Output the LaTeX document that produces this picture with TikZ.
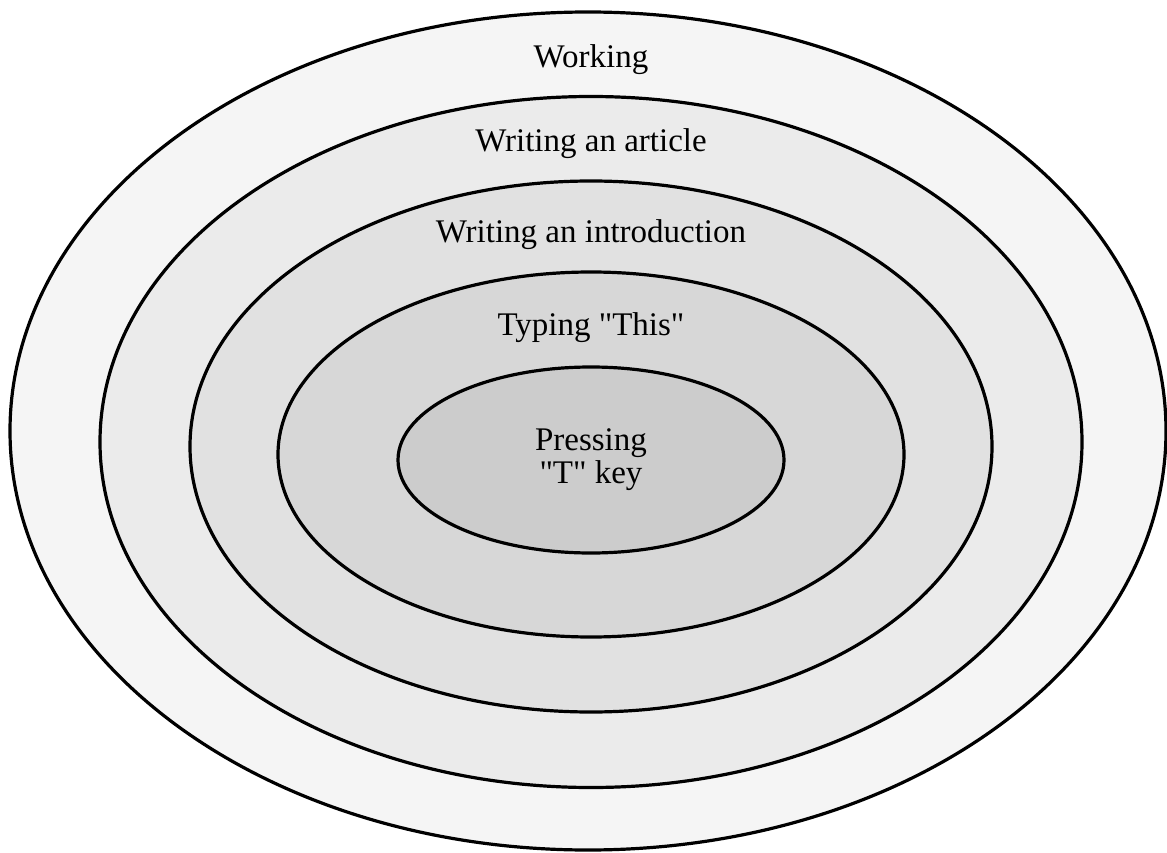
\documentclass[tikz,border=0pt]{standalone}
\usepackage{fontspec}
\setmainfont{Liberation Serif}[Ligatures=TeXOff]
\usetikzlibrary{shapes.geometric}
\definecolor{ringWork}{HTML}{F5F5F5}
\definecolor{ringArticle}{HTML}{EBEBEB}
\definecolor{ringIntro}{HTML}{E1E1E1}
\definecolor{ringTyping}{HTML}{D7D7D7}
\definecolor{ringKey}{HTML}{CCCCCC}

\begin{document}
\begin{tikzpicture}[
        x=1pt, y=-1pt,
        ring/.style={
            ellipse,
            draw=black,
            line width=3.2pt,
            inner sep=0pt,
            align=center,
            font=\fontsize{33}{33}\selectfont
        },
        layer/.style={
            anchor=base,
            inner sep=0pt,
            font=\fontsize{33}{33}\selectfont
        }
    ]
    \useasboundingbox (0,0) rectangle (1167,853);

    \node[ring, fill=ringWork, minimum width=1156pt, minimum height=838pt] (working) at (588,431) {};
    \node[ring, fill=ringArticle, minimum width=982pt, minimum height=691pt] (article) at (591,442) {};
    \node[ring, fill=ringIntro, minimum width=802pt, minimum height=531pt] (intro) at (591,446.5) {};
    \node[ring, fill=ringTyping, minimum width=626pt, minimum height=365pt] (typing) at (591,454.5) {};
    \node[ring, fill=ringKey, minimum width=386pt, minimum height=186pt] (pressing) at (591,460)
        {Pressing\\"T" key};

    \node[layer] (workingText) at (591,68) {Working};
    \node[layer] (articleText) at (591,152) {Writing an article};
    \node[layer] (introText) at (591,243) {Writing an introduction};
    \node[layer] (typingText) at (591,335) {Typing "This"};

\end{tikzpicture}
\end{document}
